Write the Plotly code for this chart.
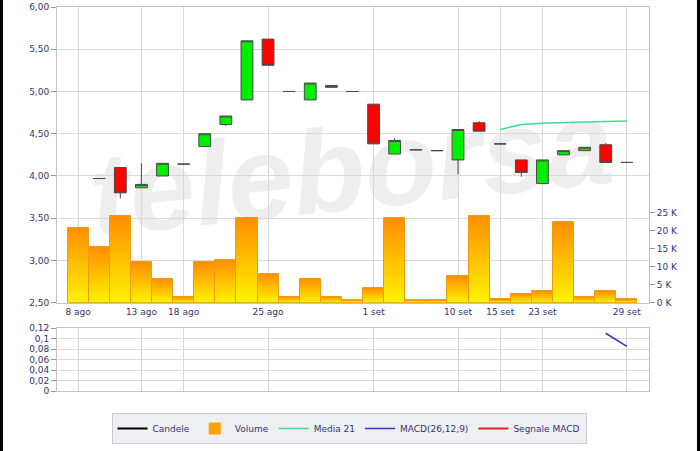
import plotly.graph_objects as go

dates = ["8 ago", "9 ago", "12 ago", "13 ago", "14 ago", "18 ago", "19 ago", "20 ago",
         "22 ago", "25 ago", "26 ago", "27 ago", "28 ago", "29 ago", "1 set", "2 set",
         "3 set", "8 set", "10 set", "11 set", "15 set", "16 set", "23 set", "24 set",
         "25 set", "26 set", "29 set"]
tick_labels = ["8 ago", "13 ago", "18 ago", "25 ago", "1 set", "10 set", "15 set", "23 set", "29 set"]

open_ = [None, 3.97, 4.10, 3.86, 4.00, 4.14, 4.35, 4.61, 4.90, 5.62, 5.00, 4.90, 5.07, 5.00,
         4.85, 4.26, 4.31, 4.30, 4.19, 4.63, 4.38, 4.19, 3.91, 4.25, 4.30, 4.37, 4.16]
high = [None, 3.97, 4.10, 4.15, 4.15, 4.14, 4.50, 4.71, 5.60, 5.62, 5.00, 5.10, 5.07, 5.00,
        4.85, 4.45, 4.31, 4.30, 4.55, 4.65, 4.38, 4.19, 4.19, 4.30, 4.34, 4.39, 4.16]
low = [None, 3.97, 3.735, 3.86, 4.00, 4.14, 4.35, 4.59, 4.90, 5.31, 5.00, 4.90, 5.05, 5.00,
       4.38, 4.26, 4.31, 4.30, 4.02, 4.53, 4.38, 3.99, 3.91, 4.25, 4.30, 4.16, 4.16]
close = [None, 3.97, 3.80, 3.90, 4.15, 4.14, 4.50, 4.71, 5.60, 5.31, 5.00, 5.10, 5.05, 5.00,
         4.38, 4.42, 4.31, 4.30, 4.55, 4.53, 4.38, 4.04, 4.19, 4.30, 4.34, 4.16, 4.16]

volume = [20700, 15400, 24100, 11200, 6600, 1700, 11200, 11900, 23400, 8100, 1700, 6600,
          1700, 750, 4100, 23400, 750, 750, 7300, 24200, 900, 2400, 3200, 22300, 1700, 3200, 900]

media21 = [None] * 20 + [4.55, 4.61, 4.625, 4.635, 4.64, 4.645, 4.65]
macd = [None] * 25 + [0.11, 0.085]
signal = [None] * 27

vol_ticks = [0, 5000, 10000, 15000, 20000, 25000]
vol_ticktext = ["0 K", "5 K", "10 K", "15 K", "20 K", "25 K"]

FONT = "DejaVu Sans"
TXT = "#34346e"
GRID = "#d9d9d9"
FRAME = "#c4c4c4"

fig = go.Figure()

# gradient volume bars (orange top -> yellow bottom)
N = 18
def lerp(c1, c2, t):
    return "#%02x%02x%02x" % tuple(int(round(a + (b - a) * t)) for a, b in zip(c1, c2))
top_c = (255, 145, 0)
bot_c = (255, 240, 0)
for k in range(N):
    frac = 1 - k / N
    fig.add_trace(go.Bar(
        x=dates, y=[v * frac for v in volume], yaxis="y", xaxis="x",
        marker=dict(color=lerp(top_c, bot_c, k / (N - 1)), line=dict(width=0)),
        name="Volume", showlegend=(k == 3), legendrank=2, hoverinfo="skip",
    ))
fig.add_trace(go.Bar(
    x=dates, y=volume, yaxis="y", xaxis="x",
    marker=dict(color="rgba(0,0,0,0)", line=dict(color="#ef9a10", width=1)),
    showlegend=False, name="Volume",
))

fig.add_trace(go.Candlestick(
    x=dates, open=open_, high=high, low=low, close=close, yaxis="y3", xaxis="x",
    increasing=dict(fillcolor="#00ee00", line=dict(color="#4a4a4a", width=1)),
    decreasing=dict(fillcolor="#ff0000", line=dict(color="#4a4a4a", width=1)),
    whiskerwidth=0, showlegend=False, name="Candele",
))
fig.add_trace(go.Scatter(
    x=dates, y=media21, yaxis="y3", xaxis="x", mode="lines",
    line=dict(color="#3ee08e", width=1.5), name="Media 21", legendrank=3,
))
fig.add_trace(go.Scatter(
    x=dates, y=[None] * 27, yaxis="y3", xaxis="x", mode="lines",
    line=dict(color="#000000", width=2), name="Candele", legendrank=1,
))
fig.add_trace(go.Scatter(
    x=dates, y=macd, yaxis="y2", xaxis="x2", mode="lines",
    line=dict(color="#3333cc", width=1.5), name="MACD(26,12,9)", legendrank=4,
))
fig.add_trace(go.Scatter(
    x=dates, y=signal, yaxis="y2", xaxis="x2", mode="lines",
    line=dict(color="#e02020", width=2), name="Segnale MACD", legendrank=5,
))

L, R, T, B = 57, 51, 7, 60
PW, PH = 700 - L - R, 451 - T - B
main_bottom = (391 - 302.7) / PH
macd_top = (391 - 328) / PH

def px_x(p):
    return (p - L) / PW
def px_y(p):
    return (451 - B - p) / PH

axis_common = dict(showgrid=True, gridcolor=GRID, gridwidth=1, showline=True,
                   linecolor=FRAME, linewidth=1, mirror=True, zeroline=False,
                   tickfont=dict(family=FONT, size=9, color=TXT))

fig.update_layout(
    width=700, height=451,
    margin=dict(l=L, r=R, t=T, b=B, autoexpand=False),
    paper_bgcolor="white", plot_bgcolor="white",
    separators=",.",
    barmode="overlay", bargap=0, boxgap=0.2,
    xaxis=dict(type="category", range=[-1, 27.05], tickvals=tick_labels, ticktext=tick_labels,
               ticks="", anchor="y", domain=[0, 1], rangeslider=dict(visible=False),
               **axis_common),
    xaxis2=dict(type="category", range=[-1, 27.05], tickvals=tick_labels, showticklabels=False,
                ticks="", anchor="y2", matches="x", domain=[0, 1], **axis_common),
    yaxis=dict(domain=[main_bottom, 1], range=[0, 82100], side="right", tickvals=vol_ticks,
               ticktext=vol_ticktext, ticks="outside", ticklen=5, tickcolor="#999999",
               anchor="x", **{**axis_common, "showgrid": False}),
    yaxis3=dict(overlaying="y", side="left", range=[2.5, 6.0], dtick=0.5, tick0=2.5,
                tickformat=".2f", ticks="outside", ticklen=5, tickcolor="#999999",
                anchor="x", **axis_common),
    yaxis2=dict(domain=[0, macd_top], range=[0, 0.12], dtick=0.02, tick0=0,
                ticks="outside", ticklen=5, tickcolor="#999999", anchor="x2", **axis_common),
    legend=dict(orientation="h", x=px_x(349), xanchor="center", y=px_y(413), yanchor="top",
                bgcolor="#eef0f3", bordercolor="#c9cdd3", borderwidth=1,
                font=dict(family=FONT, size=9, color=TXT), traceorder="normal",
                itemwidth=30),
    showlegend=True,
)

# watermark, drawn below traces
fig.add_shape(type="rect", xref="paper", yref="paper",
              x0=px_x(85), x1=px_x(615), y0=px_y(240), y1=px_y(75),
              line=dict(width=0), fillcolor="rgba(0,0,0,0)", layer="below",
              label=dict(text="<b><i>teleborsa</i></b>", textangle=-6,
                         font=dict(family="Liberation Sans", size=118, color="#eeeeee"),
                         textposition="middle center"))

# dark edges of the reference image
fig.add_shape(type="rect", xref="paper", yref="paper", x0=px_x(0), x1=px_x(3),
              y0=px_y(451), y1=px_y(0), line=dict(width=0), fillcolor="#000000")
fig.add_shape(type="rect", xref="paper", yref="paper", x0=px_x(697), x1=px_x(700),
              y0=px_y(451), y1=px_y(0), line=dict(width=0), fillcolor="#000000")

fig.write_html("out.html", config={"displayModeBar": False},
               post_script="document.body.style.margin='0';document.body.style.overflow='hidden';")
